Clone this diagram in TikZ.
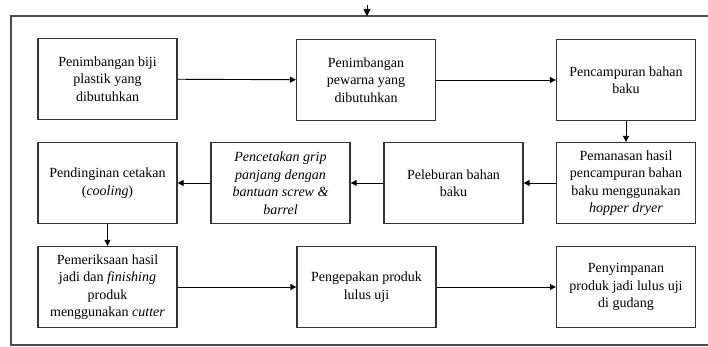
\documentclass[tikz,border=0pt]{standalone}
\usepackage{fontspec}
\setmainfont{Liberation Serif}
\usetikzlibrary{arrows.meta}
\begin{document}
\begin{tikzpicture}[x=1pt,y=-1pt,
  box/.style={draw=black!80, line width=1.3pt, fill=white, align=center,
    minimum width=139pt, minimum height=81pt, inner sep=2pt,
    font=\fontsize{14}{17.5}\selectfont},
  conn/.style={line width=0.9pt, -{Triangle[length=6pt,width=6pt]}},
  frame/.style={draw=black!70, line width=1.2pt}]
\useasboundingbox (0,0) rectangle (708,347);
% frame (open at right)
\coordinate (fr1) at (708,16);
\coordinate (fr2) at (11,16);
\coordinate (fr3) at (11,345);
\coordinate (fr4) at (708,345);
\draw[frame] (fr1) -- (fr2) -- (fr3) -- (fr4);
\coordinate (topin) at (367,5);
\coordinate (toptip) at (367,16);
\draw[line width=0.6pt, -{Triangle[length=7pt,width=7pt]}] (topin) -- (toptip);
% row 1
\node[box] (b1) at (107.5,79) {Penimbangan biji\\plastik yang\\dibutuhkan};
\node[box] (b2) at (366,80) {Penimbangan\\pewarna yang\\dibutuhkan};
\node[box] (b3) at (626,80) {Pencampuran bahan\\baku};
% row 2
\node[box] (b4) at (626,183) {Pemanasan hasil\\pencampuran bahan\\baku menggunakan\\\textit{hopper dryer}};
\node[box] (b7) at (453.5,183) {Peleburan bahan\\baku};
\node[box] (b6) at (280.5,183) {\itshape Pencetakan grip\\\itshape panjang dengan\\\itshape bantuan screw \&\\\itshape barrel};
\node[box] (b5) at (107.5,183) {Pendinginan cetakan\\(\textit{cooling})};
% row 3
\node[box] (b8) at (107.5,287) {Pemeriksaan hasil\\jadi dan \textit{finishing}\\produk\\menggunakan \textit{cutter}};
\node[box] (b9) at (366.5,287) {Pengepakan produk\\lulus uji};
\node[box] (b10) at (626,287) {Penyimpanan\\produk jadi lulus uji\\di gudang};
% connectors
\draw[conn] (b1) -- (b2);
\draw[conn] (b2) -- (b3);
\draw[conn] (b3) -- (b4);
\draw[conn] (b4) -- (b7);
\draw[conn] (b7) -- (b6);
\draw[conn] (b6) -- (b5);
\draw[conn] (b5) -- (b8);
\draw[conn] (b8) -- (b9);
\draw[conn] (b9) -- (b10);
\end{tikzpicture}
\end{document}
